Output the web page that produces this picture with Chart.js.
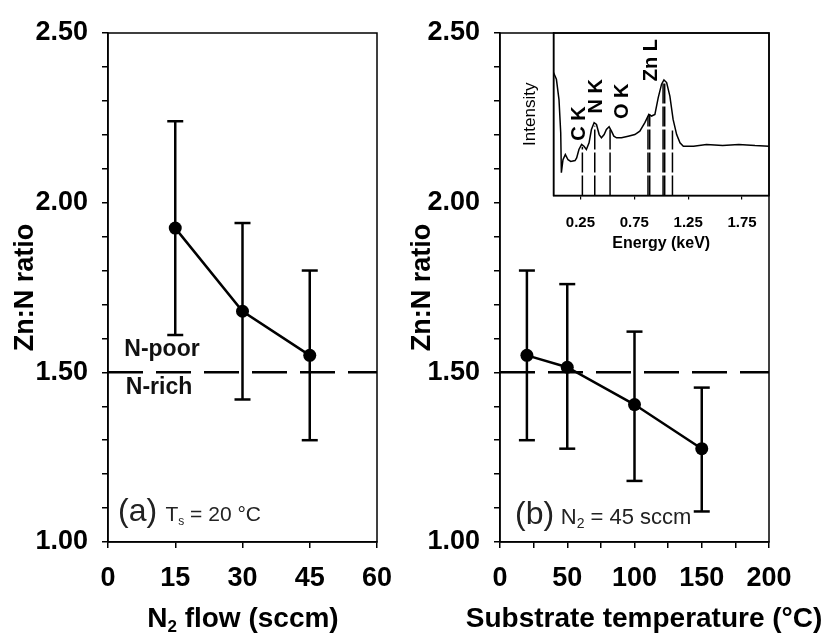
<!DOCTYPE html>
<html>
<head>
<meta charset="utf-8">
<script src="https://cdn.jsdelivr.net/npm/chart.js@4.4.1/dist/chart.umd.min.js"></script>
<style>
  body { margin: 0; background: #fff; }
  #wrap { position: relative; width: 828px; height: 635px; overflow: hidden; }
  canvas { position: absolute; }
</style>
</head>
<body>
<div id="wrap">
  <canvas id="flow" width="420" height="635" style="left:0;top:0"></canvas>
  <canvas id="temp" width="428" height="635" style="left:400px;top:0"></canvas>
  <canvas id="spectrum" width="260" height="235" style="left:515px;top:25px"></canvas>
</div>
<script>
// (a) Zn:N ratio vs N2 flow, Ts = 20 C
var flowX = [15, 30, 45];
var flowRatio = [1.925, 1.68, 1.55];
var flowHi = [2.24, 1.94, 1.80];
var flowLo = [1.61, 1.42, 1.30];

// (b) Zn:N ratio vs substrate temperature, N2 = 45 sccm
var tempX = [20, 50, 100, 150];
var tempRatio = [1.55, 1.515, 1.405, 1.275];
var tempHi = [1.80, 1.76, 1.62, 1.455];
var tempLo = [1.30, 1.275, 1.18, 1.09];

// stoichiometric boundary between N-poor and N-rich
var boundary = 1.5;

// inset: EDS spectrum (arbitrary intensity)
var energy = [0, 0.027, 0.051, 0.067, 0.073, 0.088, 0.11, 0.135, 0.16, 0.2, 0.215, 0.236, 0.261, 0.283, 0.305,
  0.33, 0.352, 0.377, 0.399, 0.424, 0.445, 0.47, 0.491, 0.516, 0.538, 0.56, 0.585, 0.631, 0.693, 0.755,
  0.801, 0.848, 0.885, 0.91, 0.941, 0.972, 1.003, 1.025, 1.05, 1.08, 1.11, 1.143, 1.174, 1.205, 1.3,
  1.42, 1.57, 1.72, 1.87, 2.0];
var intensity = [0.757, 0.715, 0.59, 0.386, 0.14, 0.22, 0.252, 0.22, 0.21, 0.215, 0.231, 0.283, 0.314, 0.303, 0.283,
  0.324, 0.406, 0.448, 0.437, 0.375, 0.355, 0.375, 0.406, 0.423, 0.396, 0.365, 0.355, 0.355, 0.365, 0.375,
  0.396, 0.448, 0.499, 0.489, 0.499, 0.602, 0.685, 0.711, 0.695, 0.612, 0.468, 0.375, 0.324, 0.303, 0.303,
  0.314, 0.307, 0.314, 0.307, 0.303];
var lineEnergy = [0.268, 0.383, 0.525, 0.877, 0.893, 1.017, 1.032, 1.104];
var lineTop = [0.30, 0.43, 0.41, 0.49, 0.50, 0.69, 0.70, 0.40];
var peakNames = ['C K', 'N K', 'O K', 'Zn L'];
var peakNameE = [0.29, 0.448, 0.689, 0.958];
var peakNameI = [0.443, 0.61, 0.58, 0.833];
var energyTicks = [0.25, 0.75, 1.25, 1.75];

var FF = "'Liberation Sans', Arial, sans-serif";
Chart.defaults.font.family = FF;
Chart.defaults.color = '#000';

// full box round the plot area
var framePlugin = {
  id: 'frame',
  afterDraw: function(chart) {
    var a = chart.chartArea, ctx = chart.ctx;
    ctx.save();
    ctx.strokeStyle = '#000';
    ctx.lineWidth = 1.5;
    ctx.strokeRect(a.left, a.top, a.right - a.left, a.bottom - a.top);
    ctx.restore();
  }
};

// text notes placed with the chart's own scales, made of runs (for subscripts)
function notesPlugin(notes) {
  return {
    id: 'notes',
    afterDraw: function(chart) {
      var ctx = chart.ctx, xs = chart.scales.x, ys = chart.scales.y;
      notes.forEach(function(n) {
        ctx.save();
        ctx.translate(xs.getPixelForValue(n.x), ys.getPixelForValue(n.y));
        if (n.rotate) ctx.rotate(n.rotate);
        ctx.fillStyle = n.color || '#000';
        ctx.textBaseline = 'alphabetic';
        ctx.textAlign = 'left';
        var total = 0;
        n.parts.forEach(function(p) { ctx.font = p.font; total += ctx.measureText(p.text).width; });
        var cx = n.align === 'center' ? -total / 2 : 0;
        n.parts.forEach(function(p) {
          ctx.font = p.font;
          ctx.fillText(p.text, cx, p.dy || 0);
          cx += ctx.measureText(p.text).width;
        });
        ctx.restore();
      });
    }
  };
}

function errorBars(xs, lo, hi) {
  return xs.map(function(x, i) {
    return {
      data: [{x: x, y: lo[i]}, {x: x, y: hi[i]}],
      showLine: true,
      borderColor: '#000',
      borderWidth: 2.5,
      pointStyle: 'line',
      pointRadius: 8,
      pointBorderWidth: 2.5,
      pointBorderColor: '#000'
    };
  });
}

function series(xs, ys) {
  return {
    data: xs.map(function(x, i) { return {x: x, y: ys[i]}; }),
    showLine: true,
    borderColor: '#000',
    borderWidth: 2.5,
    backgroundColor: '#000',
    pointRadius: 6.5,
    pointBorderWidth: 0
  };
}

function dashed(x0, x1) {
  return {
    data: [{x: x0, y: boundary}, {x: x1, y: boundary}],
    showLine: true,
    borderColor: '#000',
    borderWidth: 2.5,
    borderDash: [35, 13],
    pointRadius: 0
  };
}

function ratioAxis(width, titlePad) {
  return {
    type: 'linear',
    min: 1, max: 2.5,
    afterFit: function(s) { s.width = width; },
    ticks: {
      stepSize: 0.1,
      autoSkip: false,
      padding: 14,
      font: {size: 27, weight: 'bold'},
      callback: function(v) {
        return Math.abs(v * 2 - Math.round(v * 2)) < 1e-6 ? v.toFixed(2) : '';
      }
    },
    grid: {drawOnChartArea: false, tickLength: 6, color: '#000', lineWidth: 1.5},
    border: {color: '#000', width: 1.5},
    title: {display: true, text: 'Zn:N ratio', font: {size: 27, weight: 'bold'}, padding: {top: titlePad, bottom: 0}}
  };
}

function xAxis(min, max, step, every) {
  return {
    type: 'linear',
    min: min, max: max,
    afterFit: function(s) { s.height = 93; },
    ticks: {
      stepSize: step,
      autoSkip: false,
      maxRotation: 0,
      padding: 14,
      font: {size: 27, weight: 'bold'},
      callback: function(v) { return v % every === 0 ? String(v) : ''; }
    },
    grid: {drawOnChartArea: false, tickLength: 6, color: '#000', lineWidth: 1.5},
    border: {color: '#000', width: 1.5}
  };
}

var quiet = {legend: {display: false}, tooltip: {enabled: false}};
var bold28 = 'bold 28px ' + FF;

new Chart('flow', {
  type: 'scatter',
  data: {datasets: [series(flowX, flowRatio)].concat(errorBars(flowX, flowLo, flowHi), [dashed(0, 60)])},
  options: {
    responsive: false,
    animation: false,
    layout: {padding: {left: 0, right: 43, top: 33, bottom: 0}},
    plugins: quiet,
    scales: {x: xAxis(0, 60, 15, 15), y: ratioAxis(108, 9)}
  },
  plugins: [framePlugin, notesPlugin([
    {x: 12.04, y: 1.548, align: 'center', color: '#111', parts: [{text: 'N-poor', font: 'bold 23px ' + FF}]},
    {x: 11.38, y: 1.435, align: 'center', color: '#111', parts: [{text: 'N-rich', font: 'bold 23px ' + FF}]},
    {x: 2.23, y: 1.062, color: '#222', parts: [
      {text: '(a)', font: '32px ' + FF}, {text: ' ', font: '30px ' + FF},
      {text: 'T', font: '21px ' + FF}, {text: 's', font: '12px ' + FF, dy: 4},
      {text: ' = 20 °C', font: '21px ' + FF}]},
    {x: 30.1, y: 0.75, align: 'center', parts: [
      {text: 'N', font: bold28}, {text: '2', font: 'bold 17px ' + FF, dy: 5},
      {text: ' flow (sccm)', font: bold28}]}
  ])]
});

new Chart('temp', {
  type: 'scatter',
  data: {datasets: [series(tempX, tempRatio)].concat(errorBars(tempX, tempLo, tempHi), [dashed(0, 200)])},
  options: {
    responsive: false,
    animation: false,
    layout: {padding: {left: 0, right: 59, top: 33, bottom: 0}},
    plugins: quiet,
    scales: {x: xAxis(0, 200, 25, 50), y: ratioAxis(100, 6)}
  },
  plugins: [framePlugin, notesPlugin([
    {x: 11.15, y: 1.052, color: '#222', parts: [
      {text: '(b)', font: '32px ' + FF}, {text: ' ', font: '24px ' + FF},
      {text: 'N', font: '22px ' + FF}, {text: '2', font: '14px ' + FF, dy: 4},
      {text: ' = 45 sccm', font: '22px ' + FF}]},
    {x: 107.1, y: 0.75, align: 'center', parts: [{text: 'Substrate temperature (°C)', font: bold28}]}
  ])]
});

var peakLines = lineEnergy.map(function(e, i) {
  return {
    data: [{x: e, y: 0}, {x: e, y: lineTop[i]}],
    showLine: true,
    borderColor: '#000',
    borderWidth: 1.5,
    borderDash: [20, 3],
    pointRadius: 0
  };
});

new Chart('spectrum', {
  type: 'scatter',
  data: {
    datasets: [{
      data: energy.map(function(e, i) { return {x: e, y: intensity[i]}; }),
      showLine: true,
      borderColor: '#000',
      borderWidth: 1.5,
      pointRadius: 0
    }].concat(peakLines)
  },
  options: {
    responsive: false,
    animation: false,
    layout: {padding: {left: 0, right: 6, top: 8, bottom: 0}},
    plugins: quiet,
    scales: {
      x: {
        type: 'linear', min: 0, max: 2,
        afterFit: function(s) { s.height = 64.5; },
        afterBuildTicks: function(s) { s.ticks = energyTicks.map(function(v) { return {value: v}; }); },
        ticks: {padding: 14, maxRotation: 0, font: {size: 15, weight: 'bold'}, callback: function(v) { return v.toFixed(2); }},
        grid: {drawOnChartArea: false, tickLength: 4, color: '#000', lineWidth: 1.2},
        border: {color: '#000', width: 1.5},
        title: {display: true, text: 'Energy (keV)', font: {size: 16, weight: 'bold'}, padding: {top: 0, bottom: 7}}
      },
      y: {
        type: 'linear', min: 0, max: 1,
        afterFit: function(s) { s.width = 38.5; },
        ticks: {display: false},
        grid: {display: false},
        border: {color: '#000', width: 1.5},
        title: {display: true, text: 'Intensity', font: {size: 17}, padding: {top: 5, bottom: 0}}
      }
    }
  },
  plugins: [framePlugin, notesPlugin(peakNames.map(function(name, i) {
    return {x: peakNameE[i], y: peakNameI[i], rotate: -Math.PI / 2, align: 'center',
      parts: [{text: name, font: 'bold 20px ' + FF}]};
  }))]
});
</script>
</body>
</html>
